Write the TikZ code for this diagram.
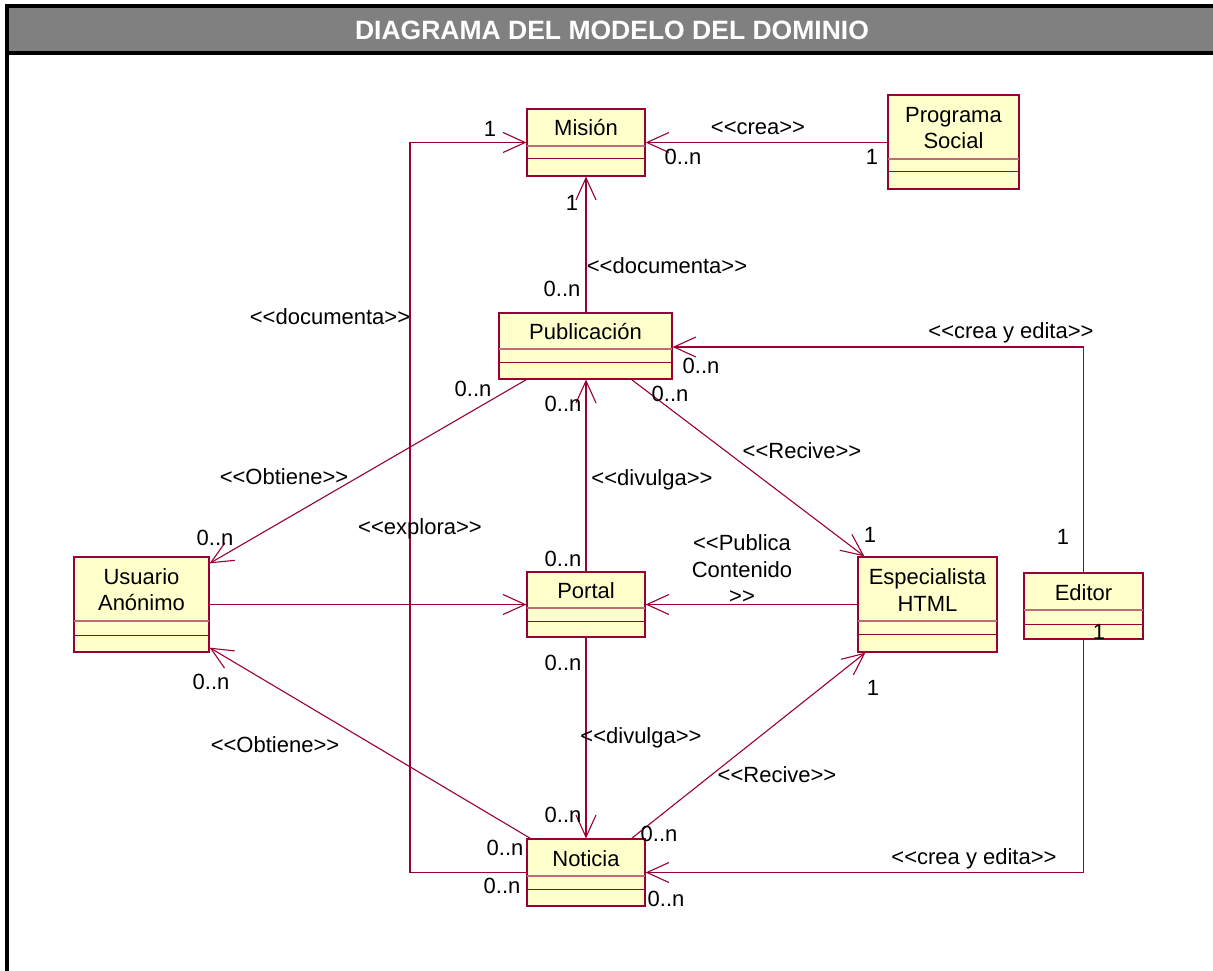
\documentclass[tikz,border=0pt]{standalone}
\usepackage{fontspec}
\setmainfont{Liberation Sans}[Ligatures=TeXOff]
\usetikzlibrary{arrows.meta,fit}

\definecolor{umlline}{HTML}{990033}
\definecolor{umlfill}{HTML}{FFFFCC}
\definecolor{umlsep}{HTML}{C06A7C}
\definecolor{bandgray}{HTML}{808080}

% class box: name, x1, y1, x2, y2, first separator, second separator
\newcommand{\umlclass}[7]{%
  \node[classbox, fit={(#2,#3) (#4,#5)}] (#1) {};
  \draw[sepA] (#2,#6) -- (#4,#6);
  \draw[sepB] (#2,#7) -- (#4,#7);
  \draw[boxshade] (#2,#5) -- (#4,#5);
}

\begin{document}
\begin{tikzpicture}[x=1pt, y=-1pt,
  classbox/.style={draw=umlline, fill=umlfill, line width=1.2pt, inner sep=0pt},
  sepA/.style={draw=umlsep, line width=1.1pt},
  sepB/.style={draw=umlline, line width=1pt},
  boxshade/.style={draw=umlline, line width=2pt},
  assoc/.style={draw=umlline, line width=1.1pt},
  nav/.style={assoc, -{Straight Barb[length=22pt,width=20pt]}},
  lbl/.style={font=\fontsize{22}{26}\selectfont, inner sep=0pt, text height=15.75pt, text depth=0pt},
  lbltwo/.style={font=\fontsize{22}{26}\selectfont, inner sep=0pt, align=center},
  title/.style={font=\bfseries\fontsize{26.5}{30}\selectfont, text=white, inner sep=0pt}
]
\useasboundingbox (0,0) rectangle (1213,971);

% frame and header band
\fill[black] (5,4) rectangle (1213,55);
\fill[bandgray] (9,8) rectangle (1213,51);
\fill[black] (5,4) rectangle (9,971);
\node[title] (titulo) at (612,30) {DIAGRAMA DEL MODELO DEL DOMINIO};

% classes
\umlclass{mision}{527}{109}{645}{176}{146}{159}
\umlclass{programa}{888}{95}{1019}{189}{159}{172}
\umlclass{publicacion}{499}{313}{672}{379}{349}{362}
\umlclass{usuario}{74}{557}{209}{652}{621}{635}
\umlclass{portal}{527}{572}{645}{637}{608}{621}
\umlclass{especialista}{858}{557}{997}{652}{621}{634}
\umlclass{editor}{1024}{573}{1143}{639}{610}{624}
\umlclass{noticia}{527}{839}{645}{906}{876}{889}

\node[lbl] (misionN) at (586,128) {Misión};
\node[lbltwo] (programaN) at (953.5,128) {Programa\\Social};
\node[lbl] (publicacionN) at (585.5,332) {Publicación};
\node[lbltwo] (usuarioN) at (141.5,590) {Usuario\\Anónimo};
\node[lbl] (portalN) at (586,591) {Portal};
\node[lbltwo, font=\fontsize{22}{27}\selectfont] (especialistaN) at (927.5,590.5) {Especialista\\HTML};
\node[lbl] (editorN) at (1083.5,593) {Editor};
\node[lbl] (noticiaN) at (586,859) {Noticia};

% associations
\coordinate (docx) at (410,0);
\draw[nav] (programa.west |- mision.east) -- (mision.east);
\draw[nav] (publicacion.north -| mision.south) -- (mision.south);
\draw[nav] (noticia.west) -- (noticia.west -| docx) |- (mision.west);
\draw[nav] (editor.north) |- ([yshift=-1pt]publicacion.east);
\draw[nav] ([xshift=28pt]publicacion.south west) -- ([yshift=-7pt]usuario.north east);
\draw[nav] (portal.north) -- (portal.north |- publicacion.south);
\draw[nav] ([xshift=-41pt]publicacion.south east) -- ([xshift=7pt]especialista.north west);
\draw[nav] (usuario.east) -- (portal.west);
\draw[nav] (especialista.west) -- (portal.east);
\draw[nav] (portal.south) -- (noticia.north);
\draw[nav] ([xshift=-14pt]noticia.north east) -- ([xshift=8pt]especialista.south west);
\draw[nav] ([xshift=4pt]noticia.north west) -- ([yshift=5pt]usuario.south east);
\draw[nav] (editor.south) |- (noticia.east);

% association names and multiplicities
\node[lbl] (m1) at (490,129) {1};
\node[lbl] (crea) at (758,127) {<<crea>>};
\node[lbl] (m2) at (683,157) {0..n};
\node[lbl] (m3) at (872,157) {1};
\node[lbl] (m4) at (572,203) {1};
\node[lbl] (doc1) at (667,266) {<<documenta>>};
\node[lbl] (m5) at (562,289) {0..n};
\node[lbl] (doc2) at (330,317) {<<documenta>>};
\node[lbl] (ce1) at (1011,331) {<<crea y edita>>};
\node[lbl] (m6) at (701,366) {0..n};
\node[lbl] (m7) at (473,389) {0..n};
\node[lbl] (m8) at (563,404) {0..n};
\node[lbl] (m9) at (670,394) {0..n};
\node[lbl] (rec1) at (802,451) {<<Recive>>};
\node[lbl] (obt1) at (284,477) {<<Obtiene>>};
\node[lbl] (div1) at (652,478) {<<divulga>>};
\node[lbl] (expl) at (420,527) {<<explora>>};
\node[lbl] (m10) at (870,535) {1};
\node[lbl] (m11) at (1063,537) {1};
\node[lbl] (m12) at (215,538) {0..n};
\node[lbltwo, font=\fontsize{22}{26.5}\selectfont] (pub) at (742,569.5) {<<Publica\\Contenido\\>>};
\node[lbl] (m13) at (563,559) {0..n};
\node[lbl] (m14) at (1099,632) {1};
\node[lbl] (m15) at (563,663) {0..n};
\node[lbl] (m16) at (211,682) {0..n};
\node[lbl] (m17) at (873,688) {1};
\node[lbl] (div2) at (641,736) {<<divulga>>};
\node[lbl] (obt2) at (275,745) {<<Obtiene>>};
\node[lbl] (rec2) at (777,775) {<<Recive>>};
\node[lbl] (m18) at (563,815) {0..n};
\node[lbl] (m19) at (659,834) {0..n};
\node[lbl] (m20) at (505,848) {0..n};
\node[lbl] (ce2) at (974,857) {<<crea y edita>>};
\node[lbl] (m21) at (502,886) {0..n};
\node[lbl] (m22) at (666,899) {0..n};
\end{tikzpicture}
\end{document}
